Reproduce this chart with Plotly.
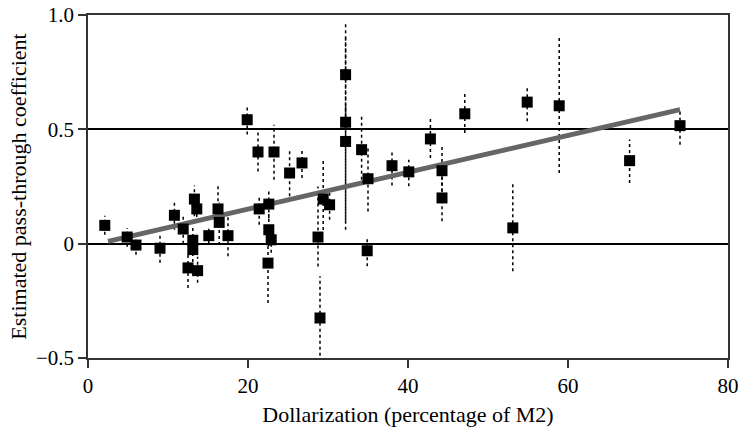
import plotly.graph_objects as go

# Data (dollarization %, pass-through estimate, CI low, CI high)
dollarization = [2.1, 4.9, 6.0, 9.0, 10.8, 11.9, 13.3, 13.6, 13.1, 13.1, 12.5, 13.7,
                 15.1, 16.25, 16.4, 17.5, 19.9, 21.25, 21.4, 22.6, 22.6, 22.9, 22.5,
                 23.25, 25.2, 26.75, 28.75, 29.0, 29.4, 30.2, 32.2, 32.2, 32.2, 34.2,
                 35.0, 34.9, 38.0, 40.1, 42.8, 44.25, 44.25, 47.1, 53.1, 54.9, 58.9,
                 67.7, 74.0]
passthrough = [0.080, 0.029, -0.006, -0.020, 0.124, 0.064, 0.195, 0.152, 0.015, -0.026,
               -0.106, -0.118, 0.035, 0.152, 0.093, 0.035, 0.542, 0.401, 0.152, 0.173,
               0.061, 0.017, -0.085, 0.401, 0.309, 0.353, 0.029, -0.325, 0.195, 0.170,
               0.739, 0.531, 0.447, 0.411, 0.284, -0.031, 0.341, 0.314, 0.458, 0.319,
               0.200, 0.568, 0.069, 0.619, 0.603, 0.363, 0.516]
ci_low = [0.039, -0.014, -0.048, -0.084, 0.061, 0.000, 0.120, 0.090, -0.050, -0.080,
          -0.194, -0.171, 0.000, 0.080, -0.006, -0.055, 0.477, 0.316, 0.083, 0.110,
          -0.010, -0.040, -0.260, 0.280, 0.207, 0.287, -0.100, -0.490, 0.060, 0.105,
          0.500, 0.100, 0.061, 0.280, 0.141, -0.099, 0.254, 0.251, 0.375, 0.200,
          0.098, 0.484, -0.121, 0.535, 0.309, 0.265, 0.433]
ci_high = [0.122, 0.069, 0.032, 0.044, 0.190, 0.127, 0.254, 0.210, 0.080, 0.030,
           -0.041, -0.057, 0.070, 0.254, 0.180, 0.120, 0.603, 0.491, 0.214, 0.236,
           0.130, 0.080, 0.003, 0.520, 0.411, 0.414, 0.250, -0.143, 0.367, 0.230,
           0.972, 0.900, 0.600, 0.557, 0.420, 0.021, 0.400, 0.367, 0.550, 0.433,
           0.300, 0.659, 0.265, 0.685, 0.907, 0.455, 0.586]

# Fitted regression line
fit_x = [2.5, 74.0]
fit_intercept = -0.010
fit_slope = 0.00806

x_ticks = [0, 20, 40, 60, 80]
y_ticks = [-0.5, 0, 0.5, 1.0]
y_tick_labels = ["\u22120.5", "0", "0.5", "1.0"]

FONT = "Liberation Serif"
tick_font = dict(family=FONT, size=21, color="black")
title_font = dict(family=FONT, size=22, color="black")

# Build error-bar segments
ex, ey = [], []
for xv, lo, hi in zip(dollarization, ci_low, ci_high):
    ex += [xv, xv, None]
    ey += [lo, hi, None]

fig = go.Figure()
fig.add_trace(go.Scatter(x=ex, y=ey, mode="lines",
                         line=dict(color="black", width=1.5, dash="dot"),
                         hoverinfo="skip", showlegend=False))
fig.add_trace(go.Scatter(x=fit_x, y=[fit_intercept + fit_slope * v for v in fit_x],
                         mode="lines", line=dict(color="#666666", width=5),
                         showlegend=False))
fig.add_trace(go.Scatter(x=dollarization, y=passthrough, mode="markers",
                         marker=dict(symbol="square", size=11, color="black"),
                         showlegend=False))

fig.update_layout(
    width=740, height=433,
    margin=dict(l=88, r=12, t=15, b=75),
    paper_bgcolor="white", plot_bgcolor="white",
    font=dict(family=FONT, size=21, color="black"),
    xaxis=dict(range=[0, 80], tickvals=x_ticks, showgrid=False, zeroline=False,
               automargin=False, tickfont=tick_font,
               showline=True, linecolor="#333333", linewidth=1.5, mirror=True,
               ticks="outside", ticklen=8, tickcolor="#333333", tickwidth=1.5,
               title=dict(text="Dollarization (percentage of M2)", standoff=10,
                          font=title_font)),
    yaxis=dict(range=[-0.5, 1.0], tickvals=y_ticks, ticktext=y_tick_labels,
               automargin=False, tickfont=tick_font,
               showgrid=True, gridcolor="black", gridwidth=1.5, zeroline=False,
               showline=True, linecolor="#333333", linewidth=1.5, mirror=True,
               ticks="outside", ticklen=8, tickcolor="#333333", tickwidth=1.5,
               title=dict(text="Estimated pass-through coefficient", standoff=3,
                          font=title_font)),
)

fig.write_html("out.html")
